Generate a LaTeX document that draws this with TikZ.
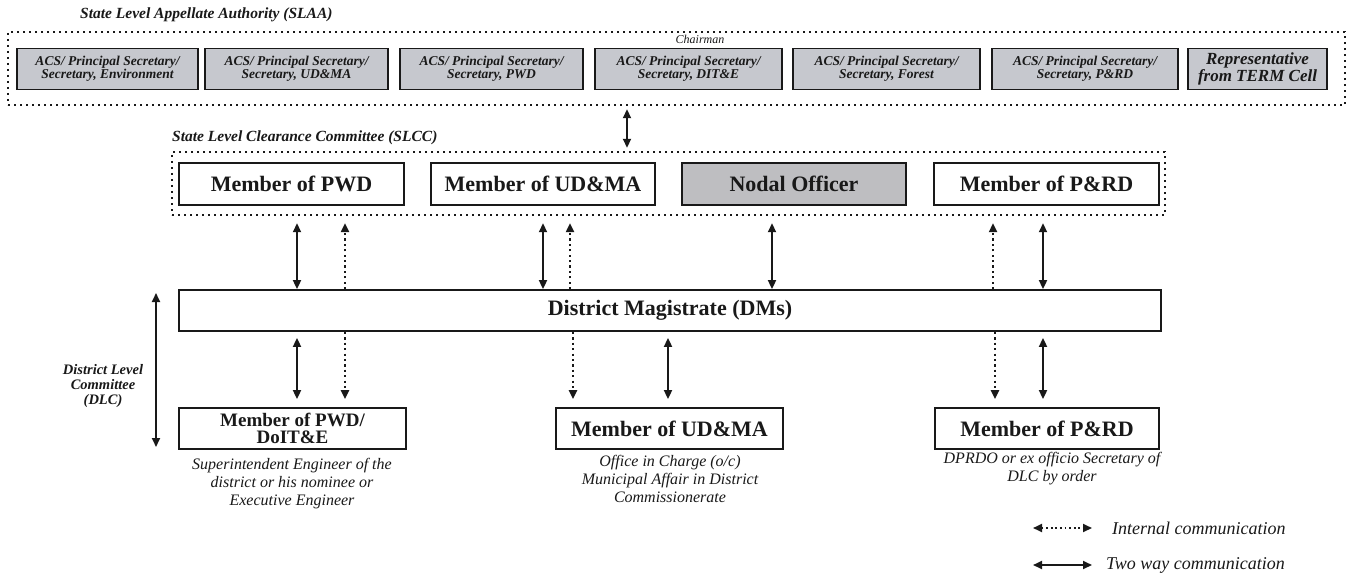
\documentclass[tikz,border=0pt]{standalone}
\usepackage{fontspec}
\setmainfont{Liberation Serif}
\usetikzlibrary{arrows.meta,backgrounds}
\definecolor{slaagray}{RGB}{198,200,206}
\definecolor{nodalgray}{RGB}{190,190,193}
\definecolor{ink}{RGB}{25,25,25}
\begin{document}
\begin{tikzpicture}[x=1pt,y=-1pt,
  >={Triangle[length=9pt,width=8pt]},
  every node/.style={text=ink},
  frame/.style={draw=ink, line width=2.4pt, dash pattern=on 2.4pt off 3.6pt, inner sep=0pt},
  grybox/.style={draw=ink, line width=1.6pt, fill=slaagray, inner sep=0pt, minimum height=41pt, align=center,
    font=\fontsize{13.5}{12.5}\selectfont\bfseries\itshape},
  repbox/.style={grybox, font=\fontsize{17}{15}\selectfont\bfseries\itshape},
  membox/.style={draw=ink, line width=1.8pt, fill=white, inner sep=0pt, minimum height=42pt, align=center,
    font=\fontsize{22}{22}\selectfont\bfseries},
  nodalbox/.style={membox, fill=nodalgray},
  botbox/.style={membox, minimum height=41pt},
  twoline/.style={botbox, font=\fontsize{19}{16.5}\selectfont\bfseries},
  lbl/.style={font=\fontsize{15.5}{16}\selectfont\bfseries\itshape, inner sep=0pt},
  chair/.style={font=\fontsize{12}{12}\selectfont\itshape, inner sep=0pt},
  dlc/.style={font=\fontsize{14.5}{15}\selectfont\bfseries\itshape, align=center, inner sep=0pt},
  desc/.style={font=\fontsize{16}{18}\selectfont\itshape, align=center, inner sep=0pt},
  legend/.style={font=\fontsize{18}{20}\selectfont\itshape, inner sep=0pt},
  twoway/.style={draw=ink, line width=1.8pt, <->},
  intern/.style={draw=ink, line width=2.2pt, dash pattern=on 2.2pt off 3.2pt},
  shade/.style={fill=black, opacity=0.045}
]
\useasboundingbox (0,0) rectangle (1351,581);
\fill[white] (0,0) rectangle (1351,581);

% ---------- SLAA ----------
\node[lbl, anchor=west] (slaalbl) at (80,15) {State Level Appellate Authority (SLAA)};
\node[frame, minimum width=1337pt, minimum height=73pt] (slaa) at (676.5,68.5) {};
\node[chair] (chair) at (700,39.5) {Chairman};
\node[grybox, minimum width=181pt] (g1) at (107.5,69) {ACS/ Principal Secretary/\\Secretary, Environment};
\node[grybox, minimum width=183pt] (g2) at (296.5,69) {ACS/ Principal Secretary/\\Secretary, UD\&MA};
\node[grybox, minimum width=183pt] (g3) at (491.5,69) {ACS/ Principal Secretary/\\Secretary, PWD};
\node[grybox, minimum width=187pt] (g4) at (688.5,69) {ACS/ Principal Secretary/\\Secretary, DIT\&E};
\node[grybox, minimum width=187pt] (g5) at (886.5,69) {ACS/ Principal Secretary/\\Secretary, Forest};
\node[grybox, minimum width=186pt] (g6) at (1085,69) {ACS/ Principal Secretary/\\Secretary, P\&RD};
\node[repbox, minimum width=139pt] (g7) at (1257.5,69) {Representative\\from TERM Cell};

% ---------- SLCC ----------
\node[lbl, anchor=west] (slcclbl) at (172,138) {State Level Clearance Committee (SLCC)};
\node[frame, minimum width=993pt, minimum height=63pt] (slcc) at (668.5,183.5) {};
\node[membox, minimum width=225pt] (mpwd) at (291.5,184) {Member of PWD};
\node[membox, minimum width=224pt] (mudma) at (543,184) {Member of UD\&MA};
\node[nodalbox, minimum width=224pt] (nodal) at (794,184) {Nodal Officer};
\node[membox, minimum width=225pt] (mprd) at (1046.5,184) {Member of P\&RD};

% ---------- DM ----------
\node[membox, minimum width=982pt, minimum height=41pt] (dm) at (670,310.5) {District Magistrate (DMs)};
\begin{scope}[on background layer]
  \foreach \d in {5,3.5,2,1}{
    \fill[shade] ([xshift=-\d pt,yshift=0.5*\d pt]dm.north west) rectangle ([xshift=\d pt,yshift=-\d pt]dm.south east);
  }
\end{scope}

% ---------- DLC ----------
\node[twoline, minimum width=227pt] (bpwd) at (292.5,428.5) {Member of PWD/\\DoIT\&E};
\node[botbox, minimum width=227pt] (budma) at (669.5,428.5) {Member of UD\&MA};
\node[botbox, minimum width=224pt] (bprd) at (1047,428.5) {Member of P\&RD};

\node[desc, anchor=north] (dpwd) at (292,458) {Superintendent Engineer of the\\district or his nominee or\\Executive Engineer};
\node[desc, anchor=north] (dudma) at (670,455) {Office in Charge (o/c)\\Municipal Affair in District\\Commissionerate};
\node[desc, anchor=north] (dprd) at (1052,452) {DPRDO or ex officio Secretary of\\DLC by order};

\node[dlc] (dlclbl) at (103,386) {District Level\\Committee\\(DLC)};
\coordinate (dlctop) at (156,293);
\coordinate (dlcbot) at (156,447);
\draw[twoway] (dlctop) -- (dlcbot);

% ---------- connector x positions ----------
\coordinate (a0) at (627,0);
\coordinate (s1) at (297,0);
\coordinate (d1) at (345,0);
\coordinate (s2) at (543,0);
\coordinate (d2) at (570,0);
\coordinate (s3) at (772,0);
\coordinate (d3) at (993,0);
\coordinate (s4) at (1043,0);
\coordinate (d4) at (573,0);
\coordinate (s5) at (668,0);
\coordinate (d5) at (995,0);

% SLAA <-> SLCC
\draw[twoway, shorten <=3pt, shorten >=3pt] (slaa.south -| a0) -- (slcc.north -| a0);

% SLCC <-> DM
\draw[twoway, shorten <=7pt] (slcc.south -| s1) -- (dm.north -| s1);
\draw[twoway, shorten <=7pt] (slcc.south -| s2) -- (dm.north -| s2);
\draw[twoway, shorten <=7pt] (slcc.south -| s3) -- (dm.north -| s3);
\draw[twoway, shorten <=7pt] (slcc.south -| s4) -- (dm.north -| s4);
\draw[intern, ->, shorten >=7pt] (dm.north -| d1) -- (slcc.south -| d1);
\draw[intern, ->, shorten >=7pt] (dm.north -| d2) -- (slcc.south -| d2);
\draw[intern, ->, shorten >=7pt] (dm.north -| d3) -- (slcc.south -| d3);

% DM <-> DLC members
\draw[twoway, shorten <=6pt, shorten >=8pt] (dm.south -| s1) -- (bpwd.north -| s1);
\draw[twoway, shorten <=6pt, shorten >=8pt] (dm.south -| s5) -- (budma.north -| s5);
\draw[twoway, shorten <=6pt, shorten >=8pt] (dm.south -| s4) -- (bprd.north -| s4);
\draw[intern, ->, shorten >=8pt] (dm.south -| d1) -- (bpwd.north -| d1);
\draw[intern, ->, shorten >=8pt] (dm.south -| d4) -- (budma.north -| d4);
\draw[intern, ->, shorten >=8pt] (dm.south -| d5) -- (bprd.north -| d5);

% ---------- legend ----------
\coordinate (l1a) at (1033,528);
\coordinate (l1b) at (1092,528);
\coordinate (l2a) at (1033,565);
\coordinate (l2b) at (1092,565);
\draw[intern, line width=1.8pt, dash pattern=on 1.8pt off 2.8pt, <->] (l1a) -- (l1b);
\draw[twoway] (l2a) -- (l2b);
\node[legend, anchor=west] (leg1) at (1112,528) {Internal communication};
\node[legend, anchor=west] (leg2) at (1106,565) {Two way communication};
\end{tikzpicture}
\end{document}
